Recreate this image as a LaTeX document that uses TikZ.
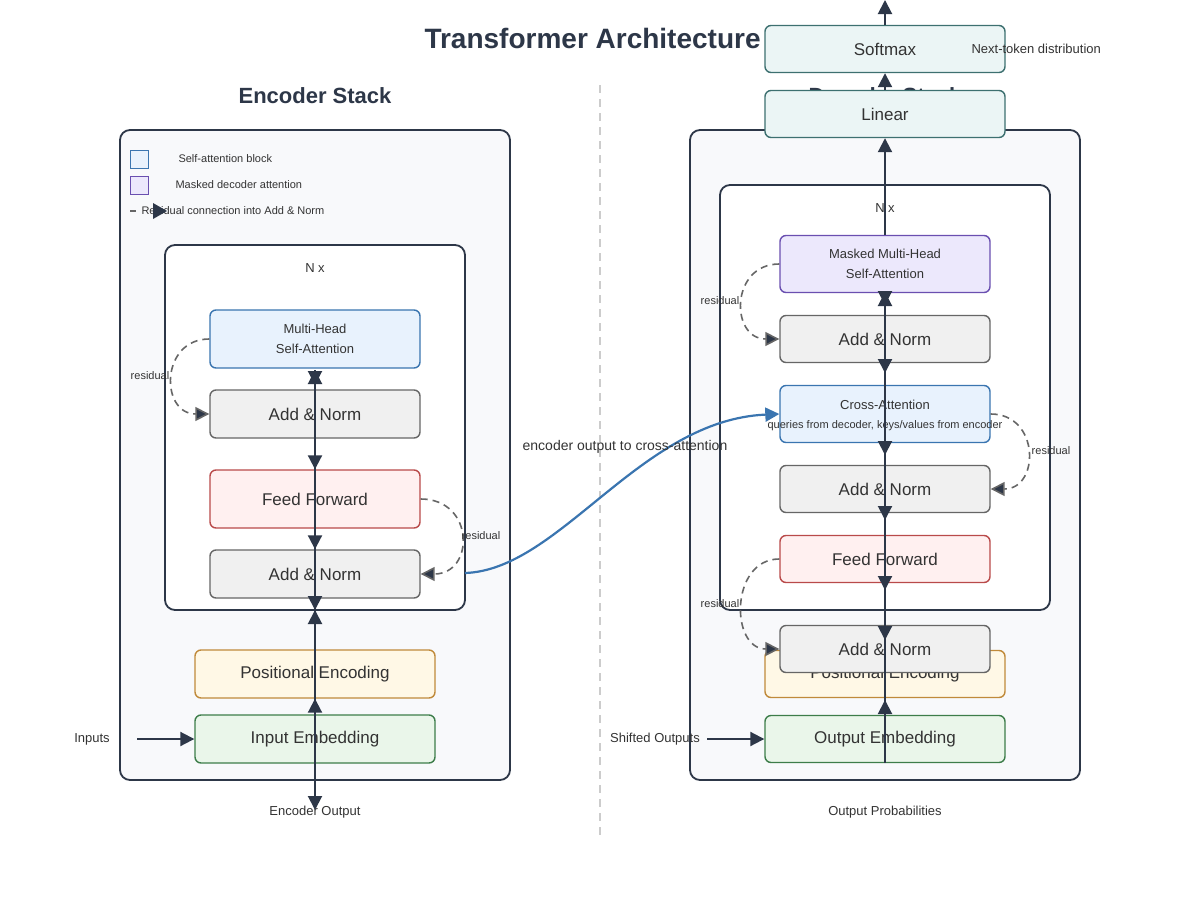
\documentclass[tikz,border=0pt]{standalone}
\usepackage{fontspec}
\setmainfont{Liberation Sans}
\usetikzlibrary{arrows.meta}
\definecolor{dk}{HTML}{2D3748}
\definecolor{bgc}{HTML}{F8F9FB}
\definecolor{blF}{HTML}{E8F2FD}\definecolor{blS}{HTML}{3A75B0}
\definecolor{puF}{HTML}{ECE8FC}\definecolor{puS}{HTML}{6A4FB0}
\definecolor{grF}{HTML}{F0F0F0}\definecolor{grS}{HTML}{666666}
\definecolor{reF}{HTML}{FFF0F0}\definecolor{reS}{HTML}{B94A4A}
\definecolor{orF}{HTML}{FFF8E6}\definecolor{orS}{HTML}{C08A3A}
\definecolor{gnF}{HTML}{EAF6EA}\definecolor{gnS}{HTML}{3D7D4A}
\definecolor{tlF}{HTML}{EBF5F5}\definecolor{tlS}{HTML}{3D7070}
\definecolor{txt}{HTML}{333333}
\tikzset{
 box/.style={draw, rounded corners=6pt, line width=1.4pt, text=txt, font=\fontsize{17}{20}\selectfont},
 frame/.style={draw=dk, rounded corners=10pt, line width=1.8pt},
 tip/.style={-{Triangle[width=14pt,length=14pt]}, draw=dk, fill=dk, line width=2pt},
 res/.style={dashed, draw=grS, line width=1.6pt, dash pattern=on 7pt off 5pt, -{Triangle[width=14pt,length=14pt,fill=dk]}},
 lbl/.style={text=txt, font=\fontsize{13}{15}\selectfont},
 sm/.style={text=txt, font=\fontsize{11}{13}\selectfont},
}
\begin{document}
\begin{tikzpicture}[x=1pt,y=-1pt]
\useasboundingbox[fill=white] (0,0) rectangle (1200,900);
% titles
\node[font=\bfseries\fontsize{28}{32}\selectfont, text=dk, anchor=west] (title) at (421,38) {Transformer Architecture};
\node[font=\bfseries\fontsize{22}{26}\selectfont, text=dk] (enct) at (315,96) {Encoder Stack};
\node[font=\bfseries\fontsize{22}{26}\selectfont, text=dk] (dect) at (885,96) {Decoder Stack};
\draw[dashed, draw=gray!40, line width=1.2pt, dash pattern=on 8pt off 6pt] (600,85) coordinate (d1) -- (600,835) coordinate (d2);
% encoder frames
\draw[frame, fill=bgc] (120,130) rectangle (510,780);
\draw[frame, fill=white] (165,245) rectangle (465,610);
\node[lbl] (enx) at (315,268) {N x};
% legend
\draw[draw=blS, fill=blF, line width=1pt] (130,150) rectangle (148,168);
\draw[draw=puS, fill=puF, line width=1pt] (130,176) rectangle (148,194);
\node[sm, anchor=west] (lg1) at (175,159) {Self-attention block};
\node[sm, anchor=west] (lg2) at (172,185) {Masked decoder attention};
\node[sm, anchor=west] (lg3) at (138,211) {Residual connection into Add \& Norm};
\draw[draw=grS, line width=1.6pt] (130,211) -- (136,211);
\fill[dk] (153,203) -- (167,211) -- (153,219) -- cycle;
% encoder boxes
\node[box, fill=blF, draw=blS, minimum width=210pt, minimum height=58pt, align=center, font=\fontsize{13}{20}\selectfont] (emh) at (315,339) {Multi-Head\\Self-Attention};
\node[box, fill=grF, draw=grS, minimum width=210pt, minimum height=48pt] (ean1) at (315,414) {Add \& Norm};
\node[box, fill=reF, draw=reS, minimum width=210pt, minimum height=58pt] (eff) at (315,499) {Feed Forward};
\node[box, fill=grF, draw=grS, minimum width=210pt, minimum height=48pt] (ean2) at (315,574) {Add \& Norm};
\node[box, fill=orF, draw=orS, minimum width=240pt, minimum height=48pt] (epe) at (315,674) {Positional Encoding};
\node[box, fill=gnF, draw=gnS, minimum width=240pt, minimum height=48pt] (eie) at (315,739) {Input Embedding};
\node[lbl] (inp) at (92,739) {Inputs};
\node[lbl] (eout) at (315,812) {Encoder Output};
\coordinate (ea) at (137,739);
\draw[tip] (ea) -- (eie.west);
% encoder flow
\coordinate (e0) at (315,370);
\coordinate (e1) at (315,385);
\coordinate (eb) at (315,810);
\draw[tip] (e1) -- (e0);
\draw[tip] (e0) -- (e1);
\draw[tip] (ean1.south) -- (eff.north);
\draw[tip] (eff.south) -- (ean2.north);
\draw[tip] (ean2.south) -- (315,610) coordinate (eup);
\draw[tip] (e1) -- (eb);
\draw[tip] (eie.south) -- (epe.south);
\draw[tip] (epe.north) -- (eup);
\draw[draw=dk, line width=2pt] (e0) -- (ean2.south);
% encoder residuals
\draw[res] (emh.west) .. controls (160,339) and (160,414) .. (ean1.west);
\node[sm] (er1) at (150,376) {residual};
\draw[res] (eff.east) .. controls (475,499) and (475,574) .. (ean2.east);
\node[sm] (er2) at (481,536) {residual};
% decoder frames
\draw[frame, fill=bgc] (690,130) rectangle (1080,780);
\draw[frame, fill=white] (720,185) rectangle (1050,610);
\node[lbl] (dnx) at (885,208) {N x};
\node[box, fill=puF, draw=puS, minimum width=210pt, minimum height=57pt, align=center, font=\fontsize{13}{20}\selectfont] (dmm) at (885,264) {Masked Multi-Head\\Self-Attention};
\node[box, fill=grF, draw=grS, minimum width=210pt, minimum height=47pt] (dan1) at (885,339) {Add \& Norm};
\node[box, fill=blF, draw=blS, minimum width=210pt, minimum height=57pt] (dca) at (885,414) {};
\node[lbl] (dcat) at (885,405) {Cross-Attention};
\node[sm] (dcas) at (885,426) {queries from decoder, keys/values from encoder};
\node[box, fill=grF, draw=grS, minimum width=210pt, minimum height=47pt] (dan2) at (885,489) {Add \& Norm};
\node[box, fill=reF, draw=reS, minimum width=210pt, minimum height=47pt] (dff) at (885,559) {Feed Forward};
\node[box, fill=orF, draw=orS, minimum width=240pt, minimum height=47pt] (dpe) at (885,674) {Positional Encoding};
\node[box, fill=grF, draw=grS, minimum width=210pt, minimum height=47pt] (dan3) at (885,649) {Add \& Norm};
\node[box, fill=gnF, draw=gnS, minimum width=240pt, minimum height=47pt] (doe) at (885,739) {Output Embedding};
\node[lbl] (sho) at (655,739) {Shifted Outputs};
\node[lbl] (oprob) at (885,812) {Output Probabilities};
\coordinate (da) at (707,739);
\draw[tip] (da) -- (doe.west);
% decoder top
\node[box, fill=tlF, draw=tlS, minimum width=240pt, minimum height=47pt] (lin) at (885,114) {Linear};
\node[box, fill=tlF, draw=tlS, minimum width=240pt, minimum height=47pt] (smx) at (885,49) {Softmax};
\node[lbl, anchor=west] (ntd) at (968,49) {Next-token distribution};
% decoder flow
\coordinate (d0) at (885,292);
\coordinate (dd1) at (885,305);
\coordinate (dtop) at (885,0);
\draw[draw=dk, line width=2pt] (885,762) -- (885,292);
\draw[tip] (doe.south) -- (885,700);
\draw[tip] (dd1) -- (d0);
\draw[tip] (d0) -- (dd1);
\draw[tip] (dan1.north) -- (885,373);
\draw[tip] (885,373) -- (885,455);
\draw[tip] (885,455) -- (885,520);
\draw[tip] (885,520) -- (885,590);
\draw[tip] (885,590) -- (885,640);
\draw[tip] (dmm.north) -- (lin.south);
\draw[tip] (lin.north) -- (smx.south);
\draw[tip] (smx.north) -- (dtop);
% decoder residuals
\draw[res] (dmm.west) .. controls (730,264) and (730,339) .. (dan1.west);
\node[sm] (dr1) at (720,301) {residual};
\draw[res] (dca.east) .. controls (1040,414) and (1040,489) .. (dan2.east);
\node[sm] (dr2) at (1051,451) {residual};
\draw[res] (dff.west) .. controls (730,559) and (730,649) .. (dan3.west);
\node[sm] (dr3) at (720,604) {residual};
% cross connection
\draw[draw=blS, line width=2.2pt, -{Triangle[width=14pt,length=14pt]}] (465,573) coordinate (cs) .. controls (560,570) and (640,420) .. (dca.west);
\node[text=txt, font=\fontsize{14}{16}\selectfont] (cl) at (625,447) {encoder output to cross-attention};
\end{tikzpicture}
\end{document}
